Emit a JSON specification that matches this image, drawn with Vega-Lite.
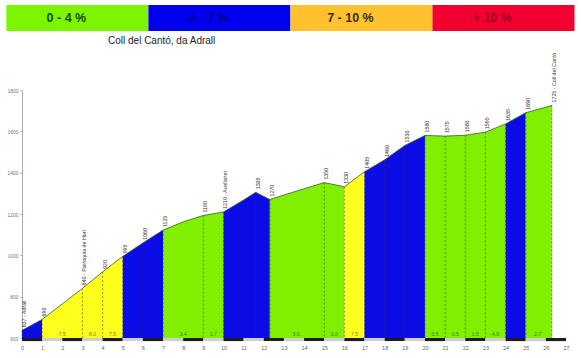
{
  "$schema": "https://vega.github.io/schema/vega-lite/v6.json",
  "padding": {"left": 6, "top": 5, "right": 0, "bottom": 0},
  "background": "#ffffff",
  "spacing": 59,
  "bounds": "flush",
  "config": {"view": {"stroke": null}, "font": "Liberation Sans",
             "axis": {"labelOverlap": false},
             "axisX": {"title": null, "domain": false, "ticks": false, "grid": false, "labelOverlap": false,
                       "labelFontSize": 5.5, "labelColor": "#666666", "labelPadding": 7, "labelFlush": false},
             "axisY": {"title": null, "grid": false, "labelOverlap": false, "labelFontSize": 5, "labelColor": "#777777",
                       "domainColor": "#aaaaaa", "tickColor": "#aaaaaa", "tickSize": 2, "labelPadding": 2}},
  "datasets": {
    "legend": [
      {"label": "0 - 4 %", "cls": "g", "x0": 0, "x1": 1},
      {"label": "4 - 7 %", "cls": "b", "x0": 1, "x1": 2},
      {"label": "7 - 10 %", "cls": "y", "x0": 2, "x1": 3},
      {"label": "+ 10 %", "cls": "r", "x0": 3, "x1": 4}
    ],
    "profile": [
      {"km": 0, "elev": 637, "seg": 1, "cls": "b"},
      {"km": 1, "elev": 690, "seg": 1, "cls": "b"},
      {"km": 1, "elev": 690, "seg": 2, "cls": "y"},
      {"km": 2, "elev": 765, "seg": 2, "cls": "y"},
      {"km": 3, "elev": 840, "seg": 2, "cls": "y"},
      {"km": 4, "elev": 920, "seg": 2, "cls": "y"},
      {"km": 5, "elev": 995, "seg": 2, "cls": "y"},
      {"km": 5, "elev": 995, "seg": 3, "cls": "b"},
      {"km": 6, "elev": 1060, "seg": 3, "cls": "b"},
      {"km": 7, "elev": 1122, "seg": 3, "cls": "b"},
      {"km": 7, "elev": 1122, "seg": 4, "cls": "g"},
      {"km": 8, "elev": 1162, "seg": 4, "cls": "g"},
      {"km": 9, "elev": 1193, "seg": 4, "cls": "g"},
      {"km": 10, "elev": 1210, "seg": 4, "cls": "g"},
      {"km": 10, "elev": 1210, "seg": 5, "cls": "b"},
      {"km": 11, "elev": 1268, "seg": 5, "cls": "b"},
      {"km": 11.6, "elev": 1305, "seg": 5, "cls": "b"},
      {"km": 12.3, "elev": 1270, "seg": 5, "cls": "b"},
      {"km": 12.3, "elev": 1270, "seg": 6, "cls": "g"},
      {"km": 13, "elev": 1292, "seg": 6, "cls": "g"},
      {"km": 14, "elev": 1322, "seg": 6, "cls": "g"},
      {"km": 15, "elev": 1352, "seg": 6, "cls": "g"},
      {"km": 16, "elev": 1332, "seg": 6, "cls": "g"},
      {"km": 16, "elev": 1332, "seg": 7, "cls": "y"},
      {"km": 17, "elev": 1405, "seg": 7, "cls": "y"},
      {"km": 17, "elev": 1405, "seg": 8, "cls": "b"},
      {"km": 18, "elev": 1462, "seg": 8, "cls": "b"},
      {"km": 19, "elev": 1532, "seg": 8, "cls": "b"},
      {"km": 20, "elev": 1580, "seg": 8, "cls": "b"},
      {"km": 20, "elev": 1580, "seg": 9, "cls": "g"},
      {"km": 21, "elev": 1577, "seg": 9, "cls": "g"},
      {"km": 22, "elev": 1581, "seg": 9, "cls": "g"},
      {"km": 23, "elev": 1596, "seg": 9, "cls": "g"},
      {"km": 24, "elev": 1636, "seg": 9, "cls": "g"},
      {"km": 24, "elev": 1636, "seg": 10, "cls": "b"},
      {"km": 25, "elev": 1690, "seg": 10, "cls": "b"},
      {"km": 25, "elev": 1690, "seg": 11, "cls": "g"},
      {"km": 26.3, "elev": 1725, "seg": 11, "cls": "g"}
    ],
    "points": [
      {"km": 0, "elev": 637, "label": "637 - Adrall"},
      {"km": 1, "elev": 690, "label": "690"},
      {"km": 3, "elev": 840, "label": "840 - Parroquia de Hort"},
      {"km": 4, "elev": 920, "label": "920"},
      {"km": 5, "elev": 995, "label": "995"},
      {"km": 6, "elev": 1060, "label": "1060"},
      {"km": 7, "elev": 1122, "label": "1125"},
      {"km": 9, "elev": 1193, "label": "1190"},
      {"km": 10, "elev": 1210, "label": "1210 - Avellanet"},
      {"km": 11.6, "elev": 1305, "label": "1305"},
      {"km": 12.3, "elev": 1270, "label": "1270"},
      {"km": 15, "elev": 1352, "label": "1350"},
      {"km": 16, "elev": 1332, "label": "1330"},
      {"km": 17, "elev": 1405, "label": "1405"},
      {"km": 18, "elev": 1462, "label": "1460"},
      {"km": 19, "elev": 1532, "label": "1530"},
      {"km": 20, "elev": 1580, "label": "1580"},
      {"km": 21, "elev": 1577, "label": "1575"},
      {"km": 22, "elev": 1581, "label": "1580"},
      {"km": 23, "elev": 1596, "label": "1595"},
      {"km": 24, "elev": 1636, "label": "1635"},
      {"km": 25, "elev": 1690, "label": "1690"},
      {"km": 26.3, "elev": 1725, "label": "1725 - Coll del Cantó"}
    ],
    "pct": [
      {"km": 0.5, "txt": "5.3", "cls": "b"},
      {"km": 2, "txt": "7.5", "cls": "y"},
      {"km": 3.5, "txt": "8.0", "cls": "y"},
      {"km": 4.5, "txt": "7.5", "cls": "y"},
      {"km": 5.5, "txt": "6.5", "cls": "b"},
      {"km": 6.5, "txt": "6.2", "cls": "b"},
      {"km": 8, "txt": "3.4", "cls": "g"},
      {"km": 9.5, "txt": "1.7", "cls": "g"},
      {"km": 11, "txt": "5.4", "cls": "b"},
      {"km": 13.6, "txt": "3.0", "cls": "g"},
      {"km": 15.5, "txt": "2.0", "cls": "g"},
      {"km": 16.5, "txt": "7.5", "cls": "y"},
      {"km": 17.5, "txt": "5.5", "cls": "b"},
      {"km": 18.5, "txt": "7.0", "cls": "b"},
      {"km": 19.5, "txt": "5.0", "cls": "b"},
      {"km": 20.5, "txt": "0.5", "cls": "g"},
      {"km": 21.5, "txt": "0.5", "cls": "g"},
      {"km": 22.5, "txt": "1.5", "cls": "g"},
      {"km": 23.5, "txt": "4.0", "cls": "g"},
      {"km": 24.5, "txt": "5.5", "cls": "b"},
      {"km": 25.6, "txt": "2.7", "cls": "g"}
    ],
    "kmband": [
      {"km": 0, "k1": 1, "alt": "d"}, {"km": 1, "k1": 2, "alt": "l"},
      {"km": 2, "k1": 3, "alt": "d"}, {"km": 3, "k1": 4, "alt": "l"},
      {"km": 4, "k1": 5, "alt": "d"}, {"km": 5, "k1": 6, "alt": "l"},
      {"km": 6, "k1": 7, "alt": "d"}, {"km": 7, "k1": 8, "alt": "l"},
      {"km": 8, "k1": 9, "alt": "d"}, {"km": 9, "k1": 10, "alt": "l"},
      {"km": 10, "k1": 11, "alt": "d"}, {"km": 11, "k1": 12, "alt": "l"},
      {"km": 12, "k1": 13, "alt": "d"}, {"km": 13, "k1": 14, "alt": "l"},
      {"km": 14, "k1": 15, "alt": "d"}, {"km": 15, "k1": 16, "alt": "l"},
      {"km": 16, "k1": 17, "alt": "d"}, {"km": 17, "k1": 18, "alt": "l"},
      {"km": 18, "k1": 19, "alt": "d"}, {"km": 19, "k1": 20, "alt": "l"},
      {"km": 20, "k1": 21, "alt": "d"}, {"km": 21, "k1": 22, "alt": "l"},
      {"km": 22, "k1": 23, "alt": "d"}, {"km": 23, "k1": 24, "alt": "l"},
      {"km": 24, "k1": 25, "alt": "d"}, {"km": 25, "k1": 26, "alt": "l"},
      {"km": 26, "k1": 27, "alt": "d"}
    ]
  },
  "vconcat": [
    {
      "width": 544,
      "height": 26,
      "data": {"name": "legend"},
      "layer": [
        {
          "mark": {"type": "rect"},
          "encoding": {
            "x": {"field": "x0", "type": "quantitative", "axis": null,
                  "scale": {"domain": [0.11, 3.94], "nice": false, "zero": false}},
            "x2": {"field": "x1"},
            "color": {"field": "cls", "type": "nominal", "legend": null,
                      "scale": {"domain": ["g", "b", "y", "r"], "range": ["#7cf500", "#0000ee", "#ffc22e", "#f2002f"]}}
          }
        },
        {
          "mark": {"type": "text", "fontSize": 12.5, "fontWeight": "bold", "align": "center", "dx": 60},
          "encoding": {
            "x": {"field": "x0", "type": "quantitative", "axis": null},
            "text": {"field": "label"},
            "color": {"field": "cls", "type": "nominal", "legend": null,
                      "scale": {"domain": ["g", "b", "y", "r"], "range": ["#1f4a05", "#00009c", "#3a2c08", "#a10022"]}}
          }
        }
      ],
      "resolve": {"scale": {"color": "independent"}}
    },
    {
      "width": 544,
      "height": 248,
      "title": {"text": "Coll del Cantó, da Adrall", "anchor": "start", "frame": "group", "dx": 86, "offset": 7,
                "fontSize": 10, "fontWeight": "normal", "color": "#222222", "font": "Liberation Sans"},
      "encoding": {
        "x": {"field": "km", "type": "quantitative",
              "scale": {"domain": [0, 27], "nice": false},
              "axis": {"values": [0,1,2,3,4,5,6,7,8,9,10,11,12,13,14,15,16,17,18,19,20,21,22,23,24,25,26,27], "tickCount": 28}}
      },
      "layer": [
        {
          "data": {"name": "kmband"},
          "mark": {"type": "rect"},
          "encoding": {
            "x2": {"field": "k1"},
            "y": {"datum": 600, "type": "quantitative", "axis": null,
                  "scale": {"domain": [600, 1800], "nice": false, "zero": false}},
            "y2": {"datum": 585},
            "color": {"field": "alt", "type": "nominal", "legend": null,
                      "scale": {"domain": ["d", "l"], "range": ["#1c1c1c", "#cfcfcf"]}}
          }
        },
        {
          "data": {"name": "profile"},
          "mark": {"type": "area", "opacity": 1},
          "encoding": {
            "y": {"field": "elev", "type": "quantitative", "stack": null,
                  "axis": {"orient": "left", "values": [600,700,800,900,1000,1100,1200,1300,1400,1500,1600,1700,1800], "tickCount": 12, "format": "d"}},
            "detail": {"field": "seg"},
            "color": {"field": "cls", "type": "nominal", "legend": null,
                      "scale": {"domain": ["g", "b", "y"], "range": ["#80f000", "#0c0ce6", "#ffff1e"]}}
          }
        },
        {
          "data": {"name": "points"},
          "mark": {"type": "rule", "strokeDash": [2, 2], "strokeWidth": 0.8, "color": "#333333", "opacity": 0.7},
          "encoding": {
            "y": {"field": "elev", "type": "quantitative", "axis": null},
            "y2": {"datum": 600}
          }
        },
        {
          "data": {"name": "profile"},
          "mark": {"type": "line", "strokeWidth": 0.8, "color": "#3d5a2a"},
          "encoding": {
            "y": {"field": "elev", "type": "quantitative", "stack": null, "axis": null},
            "detail": {"field": "seg"}
          }
        },
        {
          "data": {"name": "points"},
          "mark": {"type": "text", "angle": 270, "align": "left", "baseline": "top", "dx": 3, "fontSize": 5.3, "color": "#333333"},
          "encoding": {
            "y": {"field": "elev", "type": "quantitative", "axis": null},
            "text": {"field": "label"}
          }
        },
        {
          "data": {"name": "pct"},
          "mark": {"type": "text", "baseline": "bottom", "dy": -1, "fontSize": 5},
          "encoding": {
            "y": {"datum": 600, "type": "quantitative", "axis": null},
            "text": {"field": "txt"},
            "color": {"field": "cls", "type": "nominal", "legend": null,
                      "scale": {"domain": ["g", "b", "y"], "range": ["#2e7a00", "#1212c8", "#8a7a00"]}}
          }
        }
      ],
      "resolve": {"scale": {"color": "independent"}, "axis": {"y": "independent"}}
    }
  ]
}
